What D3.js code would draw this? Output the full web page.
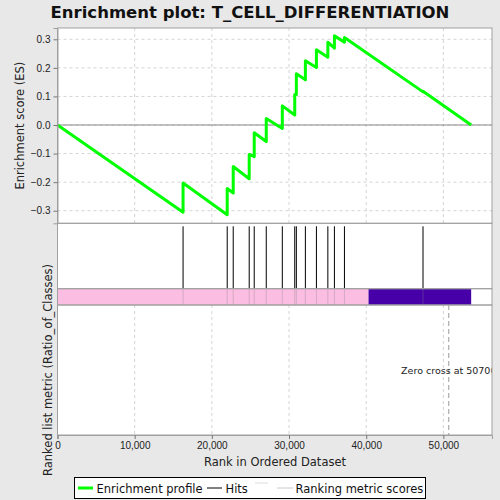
<!DOCTYPE html>
<html lang="en">
<head>
<meta charset="UTF-8">
<title>Enrichment plot</title>
<script src="https://d3js.org/d3.v7.min.js"></script>
<style>
    body { margin: 0; background: #e8e8e8; }
    svg { display: block; font-family: "DejaVu Sans", sans-serif; }
    .grid line { stroke: #d4d4d4; stroke-dasharray: 3,3; }
    .tick text { font-size: 10px; fill: #222; }
</style>
</head>
<body>
<svg width="500" height="500"></svg>
<script>
    // hits in the ranked list and the running score just before / after each hit
    const hitRanks = [16270, 21990, 22770, 24840, 25490, 27050, 29130, 30740, 30950, 32120, 33550, 35030, 35880, 37180, 47360];
    const esBefore = [-0.305, -0.314, -0.238, -0.188, -0.111, -0.058, -0.012, 0.035, 0.107, 0.158, 0.201, 0.237, 0.269, 0.290, 0.116];
    const esAfter  = [-0.203, -0.222, -0.145, -0.103, -0.027, 0.023, 0.067, 0.107, 0.179, 0.225, 0.263, 0.290, 0.312, 0.306, 0.118];
    const listSize = 53600;
    const zeroCross = 50700;
    const posEnd = 40300; // end of the pink (positive) part of the colour bar
    const xTicks = [0, 10000, 20000, 30000, 40000, 50000];
    const yTicks = [-0.3, -0.2, -0.1, 0.0, 0.1, 0.2, 0.3];

    const svg = d3.select("svg");
    const left = 57.5, right = 492;
    const esTop = 28, esBottom = 223.3, hitBottom = 288.7, barBottom = 305, rankBottom = 435;

    const x = d3.scaleLinear().domain([0, 56300]).range([left, right]);
    const y = d3.scaleLinear().domain([-0.344, 0.3395]).range([esBottom, esTop]);

    // title
    svg.append("text").attr("x", 250).attr("y", 18).attr("text-anchor", "middle")
        .attr("font-size", 16.5).attr("font-weight", "bold").attr("fill", "#111")
        .text("Enrichment plot: T_CELL_DIFFERENTIATION");

    // panel backgrounds
    [[esTop, esBottom], [esBottom, hitBottom], [hitBottom, barBottom], [barBottom, rankBottom]].forEach(p => {
        svg.append("rect").attr("x", left).attr("y", p[0]).attr("width", right - left).attr("height", p[1] - p[0])
            .attr("fill", "white");
    });

    // grids
    const gx = svg.append("g").attr("class", "grid");
    xTicks.slice(1).forEach(t => {
        gx.append("line").attr("x1", x(t)).attr("x2", x(t)).attr("y1", esTop).attr("y2", esBottom);
        gx.append("line").attr("x1", x(t)).attr("x2", x(t)).attr("y1", barBottom).attr("y2", rankBottom);
    });
    yTicks.forEach(t => {
        gx.append("line").attr("x1", left).attr("x2", right).attr("y1", y(t)).attr("y2", y(t));
    });

    // zero line
    svg.append("line").attr("x1", left).attr("x2", right).attr("y1", y(0)).attr("y2", y(0))
        .attr("stroke", "#888").attr("stroke-width", 1);

    // enrichment profile
    const pts = [[0, 0]];
    hitRanks.forEach((r, i) => { pts.push([r, esBefore[i]]); pts.push([r, esAfter[i]]); });
    pts.push([listSize, 0]);
    svg.append("path").datum(pts)
        .attr("d", d3.line().x(d => x(d[0])).y(d => y(d[1])))
        .attr("fill", "none").attr("stroke", "#00ff00").attr("stroke-width", 3).attr("stroke-linejoin", "round");

    // hits
    svg.append("g").selectAll("line").data(hitRanks).join("line")
        .attr("x1", d => x(d)).attr("x2", d => x(d)).attr("y1", esBottom + 3).attr("y2", hitBottom)
        .attr("stroke", "black").attr("stroke-width", 1);

    // colour bar
    svg.append("rect").attr("x", x(0)).attr("y", hitBottom).attr("width", x(posEnd) - x(0)).attr("height", barBottom - hitBottom)
        .attr("fill", "#fcbde3");
    svg.append("rect").attr("x", x(posEnd)).attr("y", hitBottom).attr("width", x(listSize) - x(posEnd)).attr("height", barBottom - hitBottom)
        .attr("fill", "#4700a8");
    svg.append("g").selectAll("line").data(hitRanks).join("line")
        .attr("x1", d => x(d)).attr("x2", d => x(d)).attr("y1", hitBottom).attr("y2", barBottom)
        .attr("stroke", "#888").attr("stroke-opacity", 0.35).attr("stroke-width", 1);

    // zero cross
    svg.append("line").attr("x1", x(zeroCross)).attr("x2", x(zeroCross)).attr("y1", barBottom).attr("y2", rankBottom)
        .attr("stroke", "#999").attr("stroke-dasharray", "5,3");
    svg.append("clipPath").attr("id", "rankClip").append("rect")
        .attr("x", left).attr("y", barBottom).attr("width", right - left).attr("height", rankBottom - barBottom);
    svg.append("text").attr("clip-path", "url(#rankClip)")
        .attr("x", x(zeroCross)).attr("y", 374).attr("text-anchor", "middle").attr("font-size", 9.5).attr("fill", "#222")
        .text("Zero cross at " + zeroCross);

    // panel borders
    [[esTop, esBottom], [esBottom, hitBottom], [hitBottom, barBottom], [barBottom, rankBottom]].forEach(p => {
        svg.append("rect").attr("x", left).attr("y", p[0]).attr("width", right - left).attr("height", p[1] - p[0])
            .attr("fill", "none").attr("stroke", "#a0a0a0").attr("stroke-width", 1);
    });

    // axes
    const yAxis = svg.append("g").attr("transform", `translate(${left},0)`)
        .call(d3.axisLeft(y).tickValues(yTicks).tickFormat(d3.format(".1f")).tickSize(4));
    const xAxis = svg.append("g").attr("transform", `translate(0,${rankBottom})`)
        .call(d3.axisBottom(x).tickValues(xTicks).tickFormat(d3.format(",")).tickSize(4));
    [yAxis, xAxis].forEach(a => {
        a.select(".domain").attr("stroke", "#a0a0a0");
        a.selectAll(".tick line").attr("stroke", "#777");
    });

    // axis labels
    svg.append("text").attr("transform", `translate(24,${(esTop + esBottom) / 2}) rotate(-90)`)
        .attr("text-anchor", "middle").attr("font-size", 11.5).attr("fill", "#222").text("Enrichment score (ES)");
    svg.append("text").attr("transform", "translate(52,370) rotate(-90)")
        .attr("text-anchor", "middle").attr("font-size", 11.5).attr("fill", "#222").text("Ranked list metric (Ratio_of_Classes)");
    svg.append("text").attr("x", 275).attr("y", 466).attr("text-anchor", "middle")
        .attr("font-size", 11.5).attr("fill", "#222").text("Rank in Ordered Dataset");

    // legend
    const lg = svg.append("g");
    lg.append("rect").attr("x", 74.5).attr("y", 477.5).attr("width", 351).attr("height", 21)
        .attr("fill", "white").attr("stroke", "black");
    const items = [
        { x1: 78, x2: 93, y: 488, color: "#00ff00", w: 3, label: "Enrichment profile", tx: 96.5 },
        { x1: 207, x2: 222, y: 488, color: "black", w: 1, label: "Hits", tx: 225.5 },
        { x1: 255, x2: 268, y: 483, color: "#ddd", w: 1, label: "", tx: 0 },
        { x1: 277, x2: 293, y: 488, color: "#ccc", w: 1, label: "Ranking metric scores", tx: 295.5 }
    ];
    items.forEach(it => {
        lg.append("line").attr("x1", it.x1).attr("x2", it.x2).attr("y1", it.y).attr("y2", it.y)
            .attr("stroke", it.color).attr("stroke-width", it.w);
        if (it.label) lg.append("text").attr("x", it.tx).attr("y", 492.5).attr("font-size", 11.5).attr("fill", "#111").text(it.label);
    });
</script>
</body>
</html>
